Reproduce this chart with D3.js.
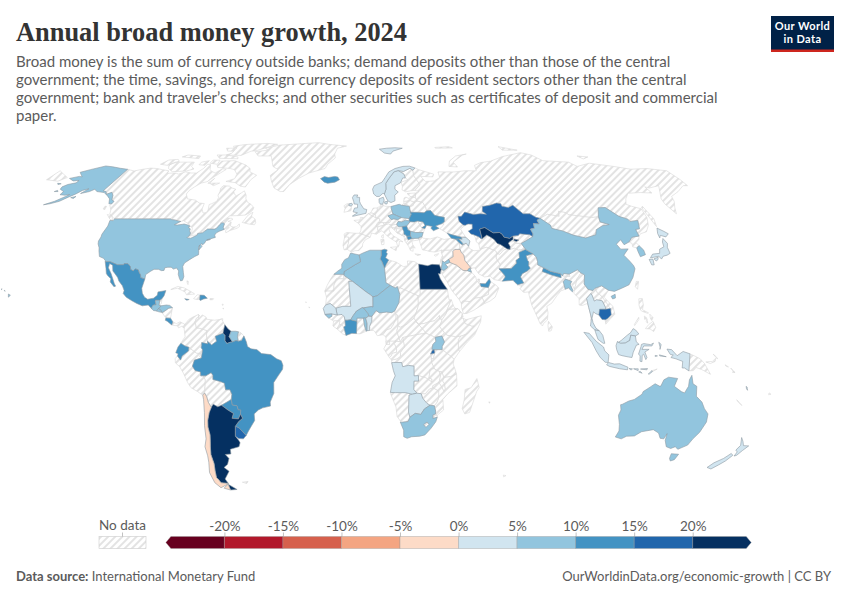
<!DOCTYPE html>
<html>
<head>
<meta charset="utf-8">
<style>
  body { margin: 0; background: #fff; }
  text { font-family: Lato, "Noto Sans", sans-serif; }
</style>
<script src="https://cdn.jsdelivr.net/npm/d3@7"></script>
</head>
<body>
<script>
const width = 850, height = 600;

// legend bins and colours
const binEdges = [-25, -20, -15, -10, -5, 0, 5, 10, 15, 20, 25];
const tickValues = [-20, -15, -10, -5, 0, 5, 10, 15, 20];
const binColors = ['#67001f', '#b2182b', '#d6604d', '#f4a582', '#fddbc7', '#d1e5f0', '#92c5de', '#4393c3', '#2166ac', '#053061'];

const dataCountries = ['United States', 'Mexico', 'Guatemala', 'Honduras', 'El Salvador', 'Costa Rica', 'Dominican Republic', 'Jamaica',
  'Guyana', 'Suriname', 'Ecuador', 'Brazil', 'Paraguay', 'Uruguay', 'Argentina', 'Chile', 'Iceland', 'United Kingdom', 'Norway', 'Sweden',
  'Denmark', 'Poland', 'Czechia', 'Hungary', 'Serbia', 'North Macedonia', 'Bulgaria', 'Ukraine', 'Georgia', 'Armenia', 'Azerbaijan',
  'Kazakhstan', 'Uzbekistan', 'Jordan', 'Iraq', 'Kuwait', 'UAE', 'Pakistan', 'Nepal', 'Bangladesh', 'China', 'South Korea', 'Japan',
  'Thailand', 'Cambodia', 'Malaysia', 'Indonesia', 'Australia', 'New Zealand', 'Vanuatu', 'Morocco', 'Algeria', 'Tunisia', 'Egypt',
  'Mali', 'Senegal', 'Guinea-Bissau', 'Ivory Coast', 'Burkina Faso', 'Togo', 'Benin', 'Niger', 'Uganda', 'Rwanda', 'Angola',
  'Botswana', 'South Africa'];
const dataGrowth = [7, 12, 9, 9, 8, 12, 11, 11,
  25, 8, 12, 13, 12, 17, 90, -3, 12, 3, 4, 3,
  3, 8, 7, 8, 13, 12, 9, 13, 14, 13, 4,
  18, 27, 7, -3, 7, 13, 12, 13, 8, 7, 6, 2,
  3, 17, 4, 4, 8, 3, 3, 7, 8, 11, 30,
  3, 4, 7, 12, 8, 8, 4, 7, 9, 17, 4,
  4, 7];

// country outlines, each ring is lon,lat,lon,lat... (rough, traced by hand)
const outlines = {
  'Canada': [
    [-123,49,-95.15,49,-94.6,48.7,-93,48.6,-91,48.2,-89.6,48,-88.4,48.3,-84.9,46.9,-84.5,46.5,-83.5,46,-82.5,45.3,-82.1,43.6,-82.5,42.6,-83.1,42.1,-81,42.6,-79.2,42.8,-78.9,42.9,-79.2,43.4,-78,43.6,-76.8,43.6,-76.3,44.2,-75,45,-71.5,45,-70.8,45.4,-70.3,46.2,-70,46.7,-69.2,47.45,-68.3,47.35,-67.8,47.1,-67.8,45.7,-67.4,45.3,-67,44.9,-66,45.2,-64.8,45.7,-66.2,44.4,-65.7,43.6,-64,44.5,-61,45.3,-60,46,-60.5,47,-61.5,45.9,-63,45.8,-64.5,46.2,-64.8,47.8,-66.5,48,-64.3,48.8,-65,49.2,-67,49.3,-70,47.2,-68,49,-66.5,50.2,-62,50.3,-59,50.5,-57,51.5,-56,52.5,-56,53.5,-58,54.8,-60,55.5,-61.8,57,-62.5,58.5,-64.5,60.3,-65.5,59.5,-67.5,58.3,-69,58.9,-70,60,-69.6,61,-72,61.5,-74,62.3,-77.5,62.5,-78.2,61.5,-77.5,60,-77.5,58.5,-76.5,57.5,-76.5,56,-78.5,55,-79.5,54.7,-78.7,52.5,-79,51.5,-80.5,51.3,-82,52.9,-82.3,55.1,-85,55.3,-88,56.5,-92.5,57,-94.8,59,-94.5,60.5,-93,62,-90.8,63.6,-88,64.2,-87,65.2,-86,66.3,-84,68,-82,69.6,-84.5,69.9,-87,68,-90,68.8,-91.5,69.5,-94,71.9,-96,72,-96,70,-98,68,-101,68,-105,68.5,-108,67.5,-110,68,-115,67.9,-115.5,69,-120,69.5,-124,70,-128,70.2,-133,69.5,-136,68.9,-141,69.65,-141,60.3,-139,60,-137.5,58.9,-135.5,59.7,-133.5,58.5,-131.8,56.6,-130,56,-130,55,-130.5,54.5,-128,52.5,-127,51,-125,50],
    [-128,50.7,-125.3,50.3,-123.5,48.5,-125,48.8],
    [-65,61.9,-68,62.3,-72,63.8,-77.5,64.3,-73.5,65.5,-73.8,67.5,-77,69.5,-80,70,-88,70.5,-89.5,71.5,-89,73.5,-81,73.7,-77,72.8,-72,71.6,-68,70,-67,68.5,-62,67,-64,65],
    [-105,68.9,-101.5,69.8,-104.5,71,-105.5,73,-110,73,-117.5,73,-119,71.5,-117,70,-113,68.6],
    [-125,72,-123,74,-117.5,74.3,-115.5,73.4,-120,71.5],
    [-90,76.5,-80,76.3,-76,78.5,-73,78.7,-65,81.5,-62,82.5,-70,83.1,-85,82.4,-92,81.3,-88,79,-87.5,77.5],
    [-80,74.6,-92,74.8,-96,76.5,-90,76.5,-81,75.5],
    [-117,75.5,-105,74.7,-106,76,-115,76.5],
    [-87,63.5,-80.5,63.6,-83,62.5,-86,63.5,-85,65.6],
    [-59.3,47.6,-56,47,-53,46.7,-52.7,47.5,-53.5,49,-55.7,50,-55.6,51.6,-57.5,50.5],
    [-90.5,73.9,-95,74,-95,72.5,-90,72],
    [-95,80,-88,80,-88,78.5,-92,78.5],
    [-101,73,-97,73.7,-97,71.5,-101,71.8],
    [-132.5,54,-131.7,54,-131.2,52.5,-132.3,53]
  ],
  'United States': [
    [-124.7,48.4,-123,48.3,-123,49,-95.15,49,-94.6,48.7,-93,48.6,-91,48.2,-89.6,48,-92,46.7,-90.5,46.6,-88,46.9,-87.4,47,-84.9,46.5,-84.5,46.4,-84,46,-84.8,45.8,-83.4,45.1,-83.3,44.3,-82.5,43.5,-82.5,42.6,-83.1,42.1,-83.4,41.7,-81.5,41.5,-79,42.7,-79,43.3,-76.8,43.6,-76.2,44.1,-75,45,-71.5,45,-70.8,45.4,-70.3,46.2,-70,46.7,-69.2,47.45,-68.3,47.35,-67.8,47.1,-67.8,45.7,-67.4,45.3,-67,44.9,-69,44.2,-70.2,43.6,-70.7,42.7,-70,41.8,-71.2,41.5,-73.7,40.9,-72,41,-74,40.5,-74.1,39.7,-75,38.9,-75.5,39.5,-75.8,39,-75,38.3,-76,37,-76.3,38.9,-76.4,37.9,-75.9,36.6,-75.5,35.2,-77,34.5,-78,33.9,-79.2,33.2,-81,32,-81.4,30.7,-80.6,28.5,-80,26.8,-80.3,25.4,-81.1,25.2,-81.8,26.1,-82.7,27.7,-82.8,29,-84,30.1,-85.3,29.7,-86.5,30.4,-88,30.4,-89.3,30.2,-89.4,29.2,-90.5,29.1,-92,29.6,-94,29.6,-95.3,28.9,-97.2,27.6,-97.15,25.95,-99.1,26.4,-99.5,27.5,-100.3,28.3,-101,29.4,-102.5,29.8,-103.2,29,-104.5,29.6,-105,30.7,-106.5,31.75,-108.2,31.78,-108.2,31.33,-111.05,31.33,-114.8,32.5,-117.1,32.5,-117.3,33,-118.4,33.8,-120.6,34.5,-121.9,36.6,-122.5,37.8,-123.8,39.3,-124.3,40.4,-124.2,42,-124.5,43,-124,46.2],
    [-141,69.65,-141,60.3,-139,60,-137.5,58.9,-135.5,59.7,-133.5,58.5,-131.8,56.6,-130,56,-130,55,-131.5,55,-133.5,57,-136,58.2,-139.5,59.6,-144,60,-146.5,61,-148,60,-151.7,59.2,-150,61.2,-152.5,60.5,-154,59,-156,57.8,-158.5,56,-162,55,-164.8,54.6,-161,56,-158,58,-157,58.8,-159,58.5,-162,58.7,-162,60,-165.4,61,-166,62,-164.5,63,-161,63.7,-161,64.7,-164,64.5,-168,65.6,-164,66.5,-162,66.3,-163.7,67,-166.8,68.3,-163,69.5,-157,71.2,-152,70.8,-146,70.1],
    [-154.6,57.5,-152.5,58,-152.8,57.2],
    [-171,63.5,-168.7,63.3,-170,63],
    [-167,60,-165,60,-166,60.5],
    [-156,20.2,-155,19.7,-155.7,19],
    [-158.2,21.6,-157.7,21.3,-158,21.3],
    [-159.8,22.1,-159.3,22.1,-159.5,21.9]
  ],
  'Greenland': [[-73,78.2,-68.5,76,-60,76,-55,71,-51,69.5,-54,67,-52,64.5,-49,61.5,-45,60,-43,60,-41,63,-37,65.6,-32,68,-23,70,-22,72,-18,75,-19,77,-18,80,-12,81.4,-25,82.5,-33,83.6,-45,82.9,-60,82,-64,81,-68,80,-65,79]],
  'Iceland': [[-24.5,65.5,-22,64,-20,63.5,-16,64,-13.6,65,-14.7,66.2,-16.5,66.5,-20,66,-22.5,66.4]],
  'Mexico': [[-117.1,32.5,-114.8,32.5,-111.05,31.33,-108.2,31.33,-108.2,31.78,-106.5,31.75,-105,30.7,-104.5,29.6,-103.2,29,-102.5,29.8,-101,29.4,-100.3,28.3,-99.5,27.5,-99.1,26.4,-97.15,25.95,-97.8,22.4,-97.2,20.5,-96,19,-94.5,18.2,-92,18.6,-90.5,19.7,-90.4,21,-87,21.5,-87.5,19.5,-88.2,18.5,-89.15,17.8,-90.98,17.8,-91,17.25,-90.5,16.1,-91.7,16,-92.2,15.2,-92.2,14.55,-93.9,16,-96.5,15.7,-99,16.6,-101.5,17.7,-104,19,-105.6,20.4,-105.4,21.5,-106.5,23.3,-108.5,25.2,-109.4,26.5,-111,27.9,-112.3,29,-113.2,31.2,-114.8,31.8,-114.7,30.2,-112.8,28,-111.3,25.8,-110.3,24.2,-109.5,23.2,-110.2,23,-112.2,24.8,-112.3,26,-114.2,27.3,-114.9,28,-115.7,30]],
  'Guatemala': [[-92.2,14.55,-92.2,15.2,-91.7,16,-90.5,16.1,-91,17.25,-90.98,17.8,-89.15,17.8,-89.2,15.9,-88.2,15.7,-89.2,14.6,-90.1,13.75,-91.4,13.9]],
  'Belize': [[-89.15,17.8,-88.2,18.5,-88.3,16.5,-89.2,15.9]],
  'Honduras': [[-88.2,15.7,-89.2,14.6,-88,13.9,-87.6,13.1,-86,14,-84.8,14.8,-83.2,15,-84.5,15.85,-86,16]],
  'El Salvador': [[-90.1,13.75,-89.2,14.6,-88,13.9,-87.8,13.2,-89,13.4]],
  'Nicaragua': [[-87.6,13.1,-86,14,-84.8,14.8,-83.2,15,-83.7,11,-85.7,11.1]],
  'Costa Rica': [[-85.7,11.1,-83.7,11,-82.6,9.6,-83,8.4,-85,9.8,-85.9,10.2]],
  'Panama': [[-83,8.4,-82.6,9.6,-81,8.9,-79.5,9.6,-77.4,8.7,-77.9,7.2,-78.4,8,-80,7.3,-80.5,8.1,-82,8.2]],
  'Cuba': [[-84.9,21.9,-82,23.1,-79,22.5,-75,20.7,-74.2,20.2,-77.7,19.9,-78.5,21,-82,22.4]],
  'Jamaica': [[-78.3,18.4,-76.3,18.1,-77.3,17.8]],
  'Haiti': [[-74.4,18.4,-73,19.9,-71.7,19.8,-71.7,18.1,-73,18.1]],
  'Dominican Republic': [[-71.7,19.8,-69.9,19.7,-68.4,18.6,-70,18.3,-71.4,17.7,-71.7,18.1]],
  'Puerto Rico': [[-67.2,18.5,-65.6,18.4,-66,18,-67.2,18]],
  'Bahamas': [[-78.3,25.2,-77.6,25,-77.6,23.8,-78,24.3]],
  'Lesser Antilles': [[-61.7,16.3,-61.2,16.3,-61.4,15.8],[-61.1,14.9,-60.9,14.5,-61.2,14.6]],
  'Trinidad': [[-61.9,10.7,-61,10.8,-61,10.1,-61.9,10.1]],
  'Colombia': [[-77.3,8.7,-75.6,10.6,-74.2,11.3,-71.7,12.4,-71.2,11.8,-72.4,11,-73,9.5,-72.4,8,-72.4,7.4,-70.1,7,-67.5,6.2,-67.8,4.5,-67.3,2.2,-67.2,1.2,-69.8,1.7,-69.8,0.6,-70,-0.2,-69.4,-1.1,-70,-4.2,-70.7,-3.8,-70.3,-2.5,-72,-2.4,-74,-1.1,-75.3,-0.1,-77,0.4,-78.8,1.4,-78,2.6,-77,3.9,-77.5,6.7]],
  'Venezuela': [[-71.7,12.4,-71.2,11.8,-72.4,11,-73,9.5,-72.4,8,-72.4,7.4,-70.1,7,-67.5,6.2,-67.8,4.5,-67.3,2.2,-65.5,0.8,-63.4,2.2,-64,4.1,-60.7,5.2,-60,8.5,-61.5,10.6,-64.5,10.2,-68,10.6,-68.3,11.4,-70,12.2,-71.5,10.8]],
  'Guyana': [[-60,8.5,-60.7,5.2,-59.8,4.4,-59.8,2.4,-58.9,1.3,-57.5,1.8,-56.5,1.9,-58,4,-57.2,6,-58.5,6.9]],
  'Suriname': [[-57.2,6,-58,4,-56.5,1.9,-55,2.5,-54,2.2,-54.4,4,-54,5.8,-55.2,6]],
  'French Guiana': [[-54,5.8,-54.4,4,-54,2.2,-52.6,2.5,-51.6,4.2,-52.9,5.4]],
  'Brazil': [[-51.6,4.2,-52.6,2.5,-54,2.2,-55,2.5,-56.5,1.9,-57.5,1.8,-58.9,1.3,-59.8,2.4,-59.8,4.4,-60.7,5.2,-64,4.1,-63.4,2.2,-65.5,0.8,-67.3,2.2,-67.2,1.2,-69.8,1.7,-69.8,0.6,-70,-0.2,-69.4,-1.1,-70,-4.2,-73,-5,-74,-7.3,-72.9,-9,-70.6,-9.5,-70.6,-11,-69.5,-11,-68.4,-11,-66,-9.8,-65.3,-10.8,-65.4,-12.4,-62,-13.2,-60.5,-13.8,-60.2,-16.3,-58.3,-16.3,-57.6,-18,-58,-20,-57.9,-22.1,-55.8,-22.4,-55.4,-24,-54.3,-24,-54.6,-25.6,-53.9,-27.2,-55.8,-28.4,-57.6,-30.2,-56,-30.9,-53.4,-33.7,-52,-32,-50.7,-30.5,-48.6,-28,-48.5,-25.5,-46.5,-24,-44.5,-23.2,-41,-22.5,-41,-21,-39.2,-17.7,-39,-13.5,-37,-11,-35,-8.5,-34.8,-7,-35.5,-5.2,-37.5,-4.5,-40,-2.9,-44,-2.5,-46,-1,-48.5,-0.7,-50,0.2,-50.5,1.9]],
  'Ecuador': [[-78.8,1.4,-77,0.4,-75.3,-0.1,-75.5,-1.5,-78.3,-3.4,-79,-5,-80.3,-3.4,-80,-2.6,-81,-2.2,-80,0]],
  'Peru': [[-80.3,-3.4,-79,-5,-78.3,-3.4,-75.5,-1.5,-75.3,-0.1,-74,-1.1,-72,-2.4,-70.3,-2.5,-70.7,-3.8,-70,-4.2,-73,-5,-74,-7.3,-72.9,-9,-70.6,-9.5,-70.6,-11,-69.5,-11,-68.7,-12.5,-69,-15,-69.5,-17.5,-70.4,-18.35,-72.5,-17,-75.2,-15.5,-76.5,-13.5,-78,-10,-79.5,-7.5,-81.3,-6,-81.3,-4.4]],
  'Bolivia': [[-69.5,-11,-68.4,-11,-66,-9.8,-65.3,-10.8,-65.4,-12.4,-62,-13.2,-60.5,-13.8,-60.2,-16.3,-58.3,-16.3,-57.6,-18,-58.2,-20.1,-62.6,-22.2,-64.3,-22.8,-66.2,-21.8,-67.2,-23,-68.3,-21,-68.7,-19,-69.5,-17.5,-69,-15,-68.7,-12.5]],
  'Paraguay': [[-57.9,-22.1,-58,-20,-58.2,-20.1,-62.6,-22.2,-60,-24,-57.7,-25.3,-58.6,-27.2,-55.8,-27.4,-54.6,-25.6,-54.3,-24,-55.4,-24,-55.8,-22.4]],
  'Uruguay': [[-57.6,-30.2,-56,-30.9,-53.4,-33.7,-54.9,-35,-57,-34.9,-58.4,-34,-58,-32]],
  'Argentina': [
    [-66.2,-21.8,-64.3,-22.8,-62.6,-22.2,-60,-24,-57.7,-25.3,-58.6,-27.2,-55.8,-27.4,-54.6,-25.6,-53.9,-27.2,-55.8,-28.4,-57.6,-30.2,-58,-32,-58.4,-34,-57.2,-35.5,-56.8,-36.5,-57.7,-38,-62,-39,-62.3,-40.8,-65,-41,-63.8,-42.5,-65.3,-44.8,-67.5,-46,-65.7,-47.5,-69,-50.5,-68.3,-52.3,-71.9,-52,-72.4,-50.7,-73,-50,-72.5,-47.5,-71.7,-44.5,-71.8,-41,-71,-38,-70.4,-36,-69.8,-33.5,-70,-30.5,-69.6,-28,-68.4,-25,-67.2,-23],
    [-68.6,-52.6,-65.1,-54.7,-68.6,-54.9]
  ],
  'Chile': [
    [-70.4,-18.35,-69.5,-17.5,-68.7,-19,-68.3,-21,-67.2,-23,-68.4,-25,-69.6,-28,-70,-30.5,-69.8,-33.5,-70.4,-36,-71,-38,-71.8,-41,-71.7,-44.5,-72.5,-47.5,-73,-50,-72.4,-50.7,-71.9,-52,-68.3,-52.3,-70,-53,-73,-54,-75,-52,-75.5,-48,-74,-44,-73.5,-41.5,-73.5,-38,-72,-35,-71.4,-30,-70.5,-25,-70.2,-20],
    [-68.6,-52.6,-68.6,-54.9,-71.5,-54.2,-70,-53.3]
  ],
  'Falkland Islands': [[-61,-51.8,-58,-51.5,-59,-52.3]],
  'Portugal': [[-9.5,38.8,-8.9,37,-7.4,37.2,-7.4,38.5,-7,39.5,-6.9,41.9,-8.2,42.1,-8.9,41.8]],
  'Spain': [[-8.9,41.8,-8.2,42.1,-6.9,41.9,-7,39.5,-7.4,38.5,-7.4,37.2,-6.3,36.6,-5.4,36.1,-4,36.7,-2,36.8,-0.5,38.2,-0.3,39.4,0.8,40.8,3.2,41.9,1.7,42.4,-1.8,43.4,-4,43.4,-8,43.7,-9.2,43.1]],
  'France': [
    [-1.8,43.4,1.7,42.4,3.2,41.9,3.9,43.5,6.2,43,7.5,43.8,6.8,45,7,45.9,6.1,46.2,7,47.5,7.6,47.6,8.2,49,6.2,49.5,4.8,50,2.5,51.1,1.6,50.5,0.2,49.5,-1.5,49.6,-1.6,48.6,-4.7,48.4,-2.5,47.3,-1.1,46,-1.2,44.5],
    [8.6,42.4,9.5,42.9,9.4,41.5,8.8,41.6]
  ],
  'Belgium': [[2.5,51.1,4.8,50,6.2,49.5,6,50.8,4.3,51.4]],
  'Netherlands': [[3.6,51.4,4.3,51.4,6,50.8,7.1,52.3,7.1,53.3,5,53.3,4.1,52]],
  'Germany': [[7.1,53.5,7.1,52.3,6,50.8,6.2,49.5,8.2,49,7.6,47.6,9.6,47.5,13,47.6,13.8,48.7,12.2,50.2,14.8,50.9,14.2,53,14.1,53.9,11,54,9.9,54.8,8.7,54.9,8.7,53.9]],
  'Denmark': [
    [8.2,55.5,8.7,54.9,9.9,54.8,10.9,56.5,10.5,57.7,8.2,57],
    [11,55.8,12.6,56,12.2,54.9,11.1,55]
  ],
  'Switzerland': [[6.1,46.2,7,45.9,10.4,46.6,9.6,47.5,7.6,47.6,7,47.5]],
  'Austria': [[9.6,47.5,10.4,46.6,12.2,47,13.7,46.5,16.2,46.9,17.1,48,16.9,48.7,15,49,13.8,48.7,13,47.6]],
  'Italy': [
    [7,45.9,6.8,45,7.5,43.8,8.9,44.4,10.5,43,12.3,41.7,15.5,40,16,38,16.6,38.8,16.9,40.4,18.5,40.1,16,41.5,14,42.5,12.5,44.2,12.3,45.3,13.7,45.7,13.7,46.5,12.2,47,10.4,46.6],
    [12.5,38,15.6,38.2,15.1,36.7],
    [8.2,41,9.7,41,9.6,39.1,8.5,39]
  ],
  'Poland': [[14.2,53,14.8,50.9,16.5,50.3,18.8,49.5,22.6,49.1,24,50.8,23.6,52.6,23.5,54,19.7,54.4,18.5,54.8,16,54.3,14.1,53.9]],
  'Czechia': [[12.2,50.2,13.8,48.7,15,49,16.9,48.7,18.8,49.5,16.5,50.3,14.8,50.9]],
  'Slovakia': [[16.9,48.7,17.1,48,18.8,47.8,20.7,48.5,22.5,48.2,22.6,49.1,18.8,49.5]],
  'Hungary': [[16.2,46.9,17.1,48,18.8,47.8,20.7,48.5,22.5,48.2,22.9,47.9,21,46.2,20.3,46.1,18.8,45.9,17,45.9]],
  'Slovenia': [[13.7,45.5,13.7,46.5,16.2,46.9,16.2,46.4,15.5,45.5]],
  'Croatia': [[13.7,45.5,15.5,45.5,16.2,46.4,17,45.9,18.8,45.9,19,44.9,16,45.2,15.8,44.2,18.4,42.6,16,43.5,15,44.5,14.2,45.2]],
  'Bosnia': [[16,45.2,19,44.9,19.4,44,18.5,42.6,18.4,42.6,15.8,44.2]],
  'Serbia': [[18.8,45.9,20.3,46.1,21,46.2,21.4,44.8,22.6,44.2,22.4,43,22.4,42.3,20.6,42.2,20,42.8,19.3,43,19.4,44,19,44.9]],
  'Montenegro': [[18.5,42.5,19.3,43,20,42.8,19.3,41.9]],
  'Albania': [[19.3,41.9,20,42.8,20.6,42.2,21,40.9,21,40.6,20,39.7,19.4,40.5]],
  'North Macedonia': [[20.6,42.2,22.4,42.3,23,41.4,21,40.9]],
  'Bulgaria': [[22.6,44.2,25,43.7,28.6,43.7,27.7,42,26.3,41.8,26.3,41.5,23,41.4,22.4,42.3,22.4,43]],
  'Romania': [[22.9,47.9,24.9,47.8,26.6,48.2,28.2,45.5,29.7,45.2,28.6,43.7,25,43.7,22.6,44.2,21.4,44.8,21,46.2]],
  'Moldova': [[26.6,48.2,29.2,47.8,30,46.4,28.2,45.5]],
  'Ukraine': [[22.5,48.2,22.6,49.1,24,50.8,23.6,51.6,27,51.6,30.5,51.4,32,52.2,34,52.3,35.5,50.4,38,49.9,40.1,49.6,39.7,47.9,38.2,47.1,35,46.2,36.5,45.3,33.6,44.4,32.5,45.4,33.4,46,30.7,46.5,29.7,45.2,28.2,45.5,30,46.4,29.2,47.8,26.6,48.2,24.9,47.8,22.9,47.9]],
  'Belarus': [[23.6,51.6,27,51.6,30.5,51.4,32,52.2,31.8,53.8,30.8,55.6,28.2,56.1,26.6,55.7,25.5,54.3,23.5,54,23.6,52.6]],
  'Lithuania': [[21,56,21,55.3,22.8,54.4,23.5,54,25.5,54.3,26.6,55.7,24.5,56.3]],
  'Latvia': [[21,56,24.5,56.3,26.6,55.7,28.2,56.1,27.5,57.5,25,58,24.1,57.1,22.5,57.7,21.5,57.4]],
  'Estonia': [[23.4,59.2,28,59.4,27.5,57.5,25,58,24.3,58.4]],
  'Finland': [[21,60.7,22.8,59.9,25.5,60.3,28,60.5,31.5,62.9,29.1,66.9,29.5,69.2,28,70.1,23.7,68.7,20.6,69.1,23.7,67.5,24,65.8,25.3,65,21.3,64,21.5,62]],
  'Sweden': [[11.2,59,12.7,56.2,14.3,55.5,16.5,56.2,16.7,58.5,18.8,59.8,17.2,61,17.5,62.5,20.8,63.7,22.5,65.8,24,65.8,23.7,67.5,20.6,69.1,18,68.5,14.5,65.5,12.5,63.5,12.3,61]],
  'Norway': [
    [11.2,59,12.3,61,12.5,63.5,14.5,65.5,18,68.5,20.6,69.1,23.7,68.7,28,70.1,29.5,69.2,31,70.3,28,71.1,24,71,19,70,15,68.5,12.5,66,10.5,64,6,62.5,5,61,5.5,59,7,58,8.5,58,10.5,59.3],
    [11,79.5,16,80,22,80.3,27,80,20,78.5,18,77,14,77.5]
  ],
  'United Kingdom': [
    [-5.2,50,1.3,51.2,1.7,52.7,0.2,53,-1.5,55,-2,56,-2,57.6,-3.5,57.7,-3,58.6,-5,58.6,-5.8,57.5,-5,55.8,-4.8,54.9,-3,54.8,-3,53.4,-4.5,53.3,-5.2,51.8,-3,51.4,-5.5,50.1],
    [-7.3,55,-6,55.2,-5.6,54.5,-6.3,54.1,-7.5,54.3]
  ],
  'Ireland': [[-7.3,55,-7.5,54.3,-6.3,54.1,-6.1,53,-6.4,52.2,-9.8,51.6,-9.3,53.2,-10,54.2,-8.3,55.1]],
  'Greece': [
    [20,39.7,21,40.6,21,40.9,23,41.4,26.3,41.5,26,40.8,22.7,40.4,23,39,24,37.7,23,38,22.9,36.5,21.7,36.8,21.1,38.3],
    [23.6,35.5,26.2,35.2,24.8,34.9]
  ],
  'Cyprus': [[32.4,35,34.5,35.6,33.8,34.9,32.9,34.6]],
  'Turkey': [[26.3,41.8,27.7,42,28.2,41.5,31.5,41.2,35,42,38,41,41.5,41.5,43.5,41.1,44.8,39.7,44.7,37.2,42.3,37.2,40,36.9,36.7,36.8,36,36.9,36.1,36,36,36.9,33,36.2,30.5,36.4,29,36.8,27.3,37,26.5,39.5,26.3,40.6]],
  'Russia': [
    [28,59.4,27.5,57.5,28.2,56.1,30.8,55.6,31.8,53.8,32,52.2,34,52.3,35.5,50.4,38,49.9,40.1,49.6,39.7,47.9,38.2,47.1,39.3,47,37.5,45.5,36.7,45.2,39,44,40,43.4,43,42.6,46.4,41.9,48.5,41.8,47.5,43.5,46.8,45,48.5,46,49.5,46.5,48.6,46.6,47,48,47,50,48.7,50,51,51.7,55,50.7,58.5,51,61.5,50.8,60,52,61,53.9,65,54.4,69,55.3,71,55,71,54,74,53.5,76.8,54.4,80,51,83.4,51,85.5,49.6,87.4,49.2,92,50.8,97.3,50,98.5,52,102,51.4,102.3,50.6,106,50.3,113,49.5,116.7,49.8,119.8,53.4,123.5,53.5,127,50,130.5,48.9,130.8,48,135,48.4,133,45.1,131,44.9,130.7,42.3,132,43.2,135.5,44,138.5,46.5,140.5,49.5,141.3,53,137.5,54,135.5,54.8,138,57,142,59.3,149,59.6,155,59.4,155,62,156.7,61.5,163.5,62.5,156.6,57,155.7,55,156.8,51,159,53.5,162,56,163.5,58,170,60,177,62.5,179.5,62.5,180,65,180,69,170,70,160,69.7,152,71,140,72.5,130,71,128,73,113,73.7,110,76.5,105,77.7,90,75.7,80,73.5,73,72.8,68,71.5,67,69,60,69,54,68.5,44,68.5,43.8,66,40,64.5,35,64.3,33,66.5,40,66.3,41,67.5,33,69.5,31,70.3,29.5,69.2,29.1,66.9,31.5,62.9,28,60.5,30,60],
    [19.7,54.4,22.8,54.4,21,55.3],
    [-180,65,-172.5,64.4,-170,66,-175,67.5,-180,69],
    [52,71,57,70.7,56,73,65,76.5,68,77,60,76,54,73.5],
    [95,79,100,79,105,79,95,81],
    [142,46,143.5,49,143,54,142,53.5],
    [139,76,145,75.5,140,74.5],
    [50,80.5,60,81,62,80.2,50,80]
  ],
  'Kazakhstan': [[49.5,46.5,51,47,53,46.9,52.5,45.2,51,44.5,50.3,44.3,51.2,43.1,52.5,42.8,54.7,42,55.5,41.3,56,41.3,56,45,58.6,45.6,62,43.5,65,43.7,66,43,66.5,41.9,69,41.4,70.9,42.3,73.5,42.5,74.5,43.2,79.2,42.8,80.2,42.1,80.8,43.2,80.4,45,82.5,45.3,83,47.2,85.7,47,85.5,48.5,87.4,49.2,85.5,49.6,83.4,51,80,51,76.8,54.4,74,53.5,71,54,71,55,69,55.3,65,54.4,61,53.9,60,52,61.5,50.8,58.5,51,55,50.7,51,51.7,48.7,50,47,50,47,48,48.6,46.6]],
  'Uzbekistan': [
    [56,41.3,56,45,58.6,45.6,62,43.5,65,43.7,66,43,66.5,41.9,69,41.4,70.9,42.3,70.5,41,68.5,40.1,67.7,39.6,68.2,38.3,67.8,37.2,66.5,37.4,64,39,62.5,39.5,61.5,41,60,42,58.6,42.7],
    [71,41.2,73.1,40.8,71.7,40.2,70.6,40.6]
  ],
  'Turkmenistan': [[52.5,42.8,54.7,42,55.5,41.3,56,41.3,58.6,42.7,60,42,61.5,41,62.5,39.5,64,39,66.5,37.4,64.8,37,62.5,35.3,61.2,35.6,61,36.6,57,38,53.9,37.2,53.8,39.5,52.9,40,52.9,41.7]],
  'Kyrgyzstan': [[70.9,42.3,73.5,42.5,74.5,43.2,79.2,42.8,80.2,42.1,76,40.4,73.7,39.5,71,39.5,70.6,40.6,73.1,40.8,71,41.2]],
  'Tajikistan': [[68.2,38.3,67.8,37.2,70,37.6,71.5,36.9,75,37.2,73.7,39.5,71,39.5,70.6,40.2,68.5,40.1,67.7,39.6]],
  'Afghanistan': [[61.2,35.6,62.5,35.3,64.8,37,66.5,37.4,67.8,37.2,70,37.6,71.5,36.9,74.9,37.3,71.5,36,71.2,34,69.3,33,69.3,31.9,66.4,29.9,60.9,29.8,61.8,31.4,60.6,33.5,60.5,34.3]],
  'Pakistan': [[74.9,37.2,77.8,35.5,74.4,34.8,74.6,33,75,32.5,74.5,31,75,30,73.5,29,71,27.9,70,26.7,71,24.4,68.2,23.7,67,24.8,66.4,25.4,61.6,25.1,63.2,26.7,63,27.3,60.9,29.8,66.4,29.9,69.3,31.9,69.3,33,71.2,34,71.5,36]],
  'India': [[74.6,33,74.4,34.8,77.8,35.5,78.9,34.3,79,32.5,78.7,31.3,81,30.2,80.1,28.8,84,27.4,88,26.4,88.2,27.9,88.8,27.1,92,26.9,92,27.8,96,29.4,97.3,28.2,95,26,94,23.9,93.3,22.5,93,22,92.3,24,91.5,24,92.4,25,89.8,25.9,88.5,24.8,88.7,24.2,89,22,87,21.4,85,19.6,82.3,16.7,80,15.5,80.3,13,79.8,10.3,78,8.9,77.5,8,76.5,9,74.8,13,73.5,15.9,72.8,19.5,72.7,21,70.5,20.8,69,22.3,70,23,68.2,23.7,71,24.4,70,26.7,71,27.9,73.5,29,75,30,74.5,31,75,32.5]],
  'Sri Lanka': [[79.9,8.2,80.2,9.8,81.8,7.6,81.2,6.2,80.1,6]],
  'Nepal': [[80.1,28.8,81,30.2,84,28.8,88.2,27.9,88,26.4,84,27.4]],
  'Bhutan': [[88.8,27.1,89.5,28,91.6,27.8,92,26.9]],
  'Bangladesh': [[88.5,24.8,89.8,25.9,92.4,25,91.5,24,92.3,21.5,92,21,90.5,22.5,89,22,88.7,24.2]],
  'Myanmar': [[97.3,28.2,98.7,27.5,97.7,24,99,22,101.1,21.5,100,20.4,97.8,18.5,98.2,15,99,11,98.7,10,98.7,16,97.5,16.5,95.5,15.8,94.2,16,94.5,18.5,92.5,20.5,93,22,93.3,22.5,94,23.9,95,26]],
  'Thailand': [[97.8,18.5,100,20.4,100.5,19.5,101,17.5,102.1,18,104.5,17.6,105.5,15.2,105.5,14.3,103,14.3,102.5,12.2,101,12.7,100.1,13.4,99.2,11,99.5,9.2,100.6,7.2,102,6.2,100.1,6.5,98.3,8,98.7,10,99,11,98.2,15]],
  'Laos': [[100,20.4,101.1,21.5,102.2,22.4,103,20.5,104.5,19.5,106.5,16.5,107.5,14.6,105.5,14.3,105.5,15.2,104.5,17.6,102.1,18,101,17.5,100.5,19.5]],
  'Cambodia': [[102.3,12.2,102.9,14.4,105.5,14.4,107.7,14.7,107.7,12.3,106,10.9,105,10.4,103.5,10.5]],
  'Vietnam': [[102.2,22.4,105.3,23.3,108,21.6,106,19.5,105.6,18.9,108.8,15.5,109.3,12.5,106.8,10.4,105,8.7,104.8,10.4,105,10.5,106,11,107.5,12.3,107.5,14.6,106.5,16.5,104.5,19.5,103,20.5]],
  'Malaysia': [
    [100.1,6.5,102,6.2,103.4,4.5,104.2,1.4,103.5,1.4,101.3,2.9,100.4,5.4],
    [109.6,2,111,1.4,113,1.5,115,2.5,115.5,4.5,117.5,4.2,119,5,117.7,6.5,116.7,7,115.4,5.4,114,4.5,111.3,2.5,110,1.7]
  ],
  'Indonesia': [
    [95.3,5.6,97.6,5.2,100.5,2.2,103.6,0,104.2,-1.5,106,-3,105.8,-5.9,104.5,-5.8,102.3,-4,100.5,-1.5,98.7,1.7],
    [105.2,-6.8,106,-5.9,108.5,-6.5,110.8,-6.4,114.5,-7.7,114.4,-8.7,111,-8.3,106.5,-7.4],
    [109.6,2,109,0.5,109.3,-1,110.2,-2.9,111.7,-3.3,114.5,-3.8,116,-4,116.5,-2,117.8,0.7,119,1,117.8,2,117.5,4.2,115.5,4.5,115,2.5,113,1.5,111,1.4],
    [119.8,0.2,120,1,121,1.3,124,0.9,125.2,1.5,124.5,0.4,121,0.4,120.2,-0.9,121.5,-0.9,123.3,-0.9,121.5,-1.9,122.5,-4,122,-4.8,121,-2.7,120.4,-3.2,120.4,-5.6,119.5,-5.4,119.5,-3.4,118.8,-2.7],
    [141,-2.6,138,-1.7,135.5,-3.3,133,-1,131,-0.8,132.5,-2.8,133.8,-3.1,132.8,-4,135,-4.5,138,-5.5,138,-8,139,-8,141,-9.1],
    [115,-8.2,116.5,-8.3,116,-8.8],
    [117,-8.3,119,-8.3,119,-9],
    [120,-8.4,123,-8.2,122.8,-8.7],
    [119.3,-9.5,120.8,-10,120,-9.3],
    [123.5,-10.3,125,-9,125.2,-9.4,124,-10.3],
    [127.5,1.8,128,0,128,-0.9,128.5,1],
    [127.8,-3,130.8,-3.7,128,-3.4],
    [126,-3.2,127,-3.4,126,-3.6]
  ],
  'Timor-Leste': [[125,-9,127.2,-8.4,125.2,-9.4]],
  'Papua New Guinea': [
    [141,-2.6,141,-9.1,143,-9,144,-7.8,146.5,-8.6,150.5,-10.4,147.5,-6.3,145.5,-4.5,143,-3.4],
    [148,-5.7,150.8,-5.5,152.2,-4.3,152,-5.5,150,-6.3],
    [151,-2.7,152.5,-3.8,153,-4.6]
  ],
  'Philippines': [
    [120.3,16,120.7,18.4,122.2,18.5,122.2,16,121.5,14.2,124,13,123.7,12.8,121,13.7,120.5,14.5],
    [122,7,123.5,8.5,125.5,9.8,126.5,7.5,125.5,5.9,124,6.9],
    [124.5,12.5,125.7,11.2,125,10.1,124.5,11],
    [122,11.8,123,11,122,10.5],
    [123,10.8,123.2,9.1,122.5,9.6],
    [117.2,8.4,119.5,11.3,119.5,10.5,117.5,8.2]
  ],
  'Taiwan': [[121,25,122,25,120.9,22,120.1,23]],
  'China': [
    [73.7,39.5,76,40.4,80.2,42.1,80.8,43.2,80.4,45,82.5,45.3,83,47.2,85.7,47,85.5,48.5,87.4,49.2,91,46.5,90.8,45.3,95.5,44.3,100,42.6,105,41.6,110.5,42.8,112,44.8,116,46.3,119.7,46.8,116,47.8,116.7,49.8,119.8,53.4,123.5,53.5,127,50,130.5,48.9,130.8,48,135,48.4,133,45.1,131,44.9,130.7,42.3,128,42,126.9,41.8,124.3,40,121.5,39,121,40.9,118,39.2,119,37.3,122.5,37.4,119.2,35,120.9,32.7,121.9,31,122,29.8,120,26.5,117.5,23.7,114,22.4,110.5,21.2,108,21.6,105.3,23.3,102.2,22.4,101.1,21.5,99,22,97.7,24,98.7,27.5,97.3,28.2,96,29.4,92,27.8,91.6,27.8,89.5,28,88.8,27.1,88.2,27.9,84,28.8,81,30.2,78.7,31.3,79,32.5,78.9,34.3,77.8,35.5,74.9,37.2,75,37.2],
    [108.7,19.3,110.6,20.1,110.5,18.7,109.2,18.3]
  ],
  'Mongolia': [[87.4,49.2,92,50.8,97.3,50,98.5,52,102,51.4,102.3,50.6,106,50.3,113,49.5,116.7,49.8,116,47.8,119.7,46.8,116,46.3,112,44.8,110.5,42.8,105,41.6,100,42.6,95.5,44.3,90.8,45.3,91,46.5]],
  'North Korea': [[124.3,40,126.9,41.8,128,42,130.7,42.3,129.7,41,127.5,39.8,128.3,38.6,126.7,37.8,125,38.2,125.5,39.5]],
  'South Korea': [[126.7,37.8,128.3,38.6,129.4,37,129.2,35.2,126.5,34.4,126.5,36.7]],
  'Japan': [
    [130.9,34,132.6,35.4,136,35.7,137,37.3,139.5,38.2,140,40,141.3,41.4,142,39.5,141,38,140.8,35.7,139,35,137,34.6,135.7,33.5,135,34.6,132.5,34.2],
    [130,33.4,131.8,33.5,131.3,31.3,130.2,31.3],
    [132.3,33.6,134.5,34.2,134,33.3,132.9,32.8],
    [140,41.6,140.3,43.3,141.7,45.4,144,44.1,145.3,43.2,143.2,42,141,42.6]
  ],
  'Georgia': [[40,43.4,43,42.6,46.4,41.9,46.5,41.1,45,41.2,43.5,41.1,41.5,41.5]],
  'Armenia': [[43.5,41.1,45,41.2,46.5,39.5,46.2,38.9,44.8,39.7]],
  'Azerbaijan': [[46.5,41.1,46.4,41.9,48.5,41.8,50,40.4,48.9,38.4,48,39.6,46.2,38.9,46.5,39.5,45,41.2]],
  'Iran': [[44.8,39.7,46.2,38.9,48,39.6,48.9,38.4,49.2,37.5,51,36.7,53.9,36.9,53.9,37.2,57,38,61,36.6,61.2,35.6,60.5,34.3,60.6,33.5,61.8,31.4,60.9,29.8,63,27.3,63.2,26.7,61.6,25.1,58,25.7,56.5,27,54,26.7,51.5,27.9,50,30.2,48.5,30,47.7,31,46.1,33,46,35,45,36,44.7,37.2]],
  'Iraq': [[42.3,37.2,44.7,37.2,45,36,46,35,46.1,33,47.7,31,48.5,30,48,29.9,47.7,30.1,46.6,29.1,44.7,29.2,42,31.2,39.2,32.2,38.8,33.4,41,34.4,41.2,36.4]],
  'Syria': [[36,36.9,36.7,36.8,40,36.9,42.3,37.2,41.2,36.4,41,34.4,38.8,33.4,36.8,32.3,35.8,32.8,36.3,34.5,35.8,36]],
  'Lebanon': [[35.1,33.1,35.8,32.8,36.3,34.5,35.9,34.6]],
  'Israel': [[34.3,31.3,34.9,29.5,35.5,31.5,35.8,32.8,35.1,33.1,34.8,32]],
  'Jordan': [[34.9,29.5,36.1,29.2,37.5,30,38,30.5,37,31.5,39.2,32.2,38.8,33.4,36.8,32.3,35.8,32.8,35.5,31.5]],
  'Saudi Arabia': [[34.9,29.5,36.1,29.2,37.5,30,38,30.5,37,31.5,39.2,32.2,42,31.2,44.7,29.2,46.6,29.1,48.4,28.5,50,26.8,50.2,25.5,51,24.5,52,23,55.1,22.7,55.2,22,55,20,52,19,49,18.6,46.7,17.3,43.4,17.5,42.8,16.5,42,18,39,21.5,37,25,35,28]],
  'Kuwait': [[46.6,29.1,47.7,30.1,48,29.9,48.4,28.5]],
  'Qatar': [[50.8,25.9,51.6,25.9,51.5,24.7,51,24.5]],
  'UAE': [[51.6,24.2,54,24.1,56,26,56.4,24.9,55.2,22.7,52,23]],
  'Oman': [[56.4,24.9,58.6,23.6,59.8,22.5,57.8,19,55.4,17.5,53,16.6,52,19,55,20,55.2,22,55.2,22.7]],
  'Yemen': [[43.4,17.5,46.7,17.3,49,18.6,52,19,53,16.6,48,14,45,12.8,43.5,12.7,42.8,15,42.8,16.5]],
  'Egypt': [[25,31.6,29,31,31,31.5,34.3,31.3,34.9,29.5,34.3,27.8,33.5,28,34.2,26,35.5,24,37,22,31.3,22,25,22]],
  'Libya': [[25,31.6,25,22,25,20,24,19.5,15,23,14,22.5,11.9,23.5,10,24.5,9.5,30,10.3,31.5,11.5,33.2,15,32.3,18,30.6,20,31,20,32.8,23,32.6]],
  'Tunisia': [[8.2,36.9,9.8,37.3,11,37,10.5,36,11,35.5,10.1,34,11.5,33.2,10.3,31.5,9.5,30,8.4,32.5,7.6,33.5,8.2,35]],
  'Algeria': [[-2,35.1,-1.3,32.5,-3.5,31.5,-8.7,28.7,-8.7,27.3,-4.8,25,1.2,21,3.2,19.8,4.2,19.1,6,19.5,11.9,23.5,10,24.5,9.5,30,8.4,32.5,7.6,33.5,8.2,35,8.2,36.9,3,36.9,0,35.9]],
  'Morocco': [[-5.9,35.8,-2,35.1,-1.3,32.5,-3.5,31.5,-8.7,28.7,-8.7,27.7,-13.2,27.7,-11.4,29,-9.7,30,-9.8,31.5,-8.5,33.3,-6.8,34]],
  'Western Sahara': [[-8.7,27.7,-8.7,26,-12,26,-13,23.5,-13,21.3,-17,21.3,-16,23.5,-14.5,26,-13.2,27.7]],
  'Mauritania': [[-8.7,27.3,-4.8,25,-6.5,25,-5.5,15.5,-9,15.5,-12,14.8,-14.5,16.6,-16.5,16,-16.2,19,-17,21.3,-13,21.3,-13,23.5,-12,26,-8.7,26]],
  'Mali': [[-12,14.8,-9,15.5,-5.5,15.5,-6.5,25,-4.8,25,1.2,21,3.2,19.8,4.2,19.1,4.2,15.2,3.5,15.4,0,14.9,-0.5,15,-2,14.2,-3,13.7,-4.4,12,-5.5,10.4,-7,10.2,-8,10.2,-8.3,11.5,-9.3,12.4,-11.4,12.2]],
  'Senegal': [[-16.5,16,-14.5,16.6,-12,14.8,-11.4,12.2,-13.7,12.6,-16.7,12.4,-17.5,14.7]],
  'Guinea-Bissau': [[-16.7,12.4,-13.7,12.6,-13.7,11.7,-15,11,-16,11.7]],
  'Guinea': [[-13.7,12.6,-11.4,12.2,-9.3,12.4,-8.3,11.5,-8,10.2,-7.8,8,-8.5,7.6,-9.5,8.5,-10.5,8.4,-10.2,10,-11.3,10,-12.9,9.9,-15,11,-13.7,11.7]],
  'Sierra Leone': [[-12.9,9.9,-11.3,10,-10.2,10,-10.5,8.4,-11.4,6.9,-13.2,8]],
  'Liberia': [[-11.4,6.9,-10.5,8.4,-9.5,8.5,-8.5,7.6,-7.5,4.4,-9,5]],
  'Ivory Coast': [[-8.5,7.6,-7.8,8,-8,10.2,-7,10.2,-5.5,10.4,-2.8,9.8,-3,5.1,-5,5.2,-7.5,4.4]],
  'Ghana': [[-3,5.1,-2.8,9.8,-2.8,11,0,11,0.5,8,1.2,6,-1.5,5]],
  'Burkina Faso': [[-5.5,10.4,-4.4,12,-3,13.7,-2,14.2,-0.5,15,0,14.9,2,12.8,2.4,11.8,1,11,0,11,-2.8,11,-2.8,9.8]],
  'Togo': [[0,11,1,11,1.6,9,1.6,6.2,1.2,6,0.5,8]],
  'Benin': [[1,11,2.4,11.8,3.7,11.7,3.6,9.8,2.7,7.9,2.7,6.3,1.6,6.2,1.6,9]],
  'Niger': [[0,14.9,3.5,15.4,4.2,15.2,4.2,19.1,6,19.5,11.9,23.5,14,22.5,15,23,16,20,15.5,16.9,13.6,13.7,12.3,13.1,10,13.3,7,13,5.5,13.9,3.7,11.7,2.4,11.8,2,12.8]],
  'Nigeria': [[2.7,6.3,2.7,7.9,3.6,9.8,3.7,11.7,5.5,13.9,7,13,10,13.3,12.3,13.1,13.6,13.7,14.2,12.4,14.2,11,13,8.5,11.8,7,10,6.5,8.5,4.7,6,4.3,5,5.8,4.4,6.3]],
  'Cameroon': [[8.5,4.7,10,6.5,11.8,7,13,8.5,14.2,11,14.2,12.4,14.9,12.2,15,10,15,8,14.5,6.2,15,4.4,16,2,14,2.2,9.8,2.2,9.7,3.8]],
  'Chad': [[14.2,12.4,13.6,13.7,15.5,16.9,16,20,15,23,24,19.5,24,15.7,22.9,13,22,11,18.9,8.7,16,7.5,15,8,15,10,14.9,12.2]],
  'Central African Republic': [[15,8,16,7.5,18.9,8.7,22,11,23,9.5,27.4,5.1,25,5,19,4,17,3.6,16,2,15,4.4,14.5,6.2]],
  'Sudan': [[24,19.5,25,20,25,22,31.3,22,37,22,37.5,18,38.5,18,36.5,14.3,36,12.7,34.2,10.5,33,10.7,33,12,31,10,28,9.5,26.5,9,24,8.7,23,9.5,22,11,22.9,13,24,15.7]],
  'South Sudan': [[23,9.5,24,8.7,26.5,9,28,9.5,31,10,33,12,33,10.7,34.2,10.5,33,7.8,35,5.5,33.9,4.2,31,3.7,28.9,4.5,27.4,5.1]],
  'Eritrea': [[38.5,18,39.5,15.2,43,12.6,41.2,14.6,38.5,14.4,36.5,14.3]],
  'Ethiopia': [[36.5,14.3,38.5,14.4,41.2,14.6,43,12.6,42.4,11,43.3,11,44,9,46.9,8,48,8,45,5,42,4.1,39.8,3.9,36,4.5,35,5.5,33,7.8,34.2,10.5,36,12.7]],
  'Djibouti': [[43,12.6,43.3,11.5,42.4,11]],
  'Somalia': [[43.3,11,44.5,10.4,48,11.2,51.2,11.9,50.8,9.5,48,4.5,45,2,41.5,-1.7,41,-1,41,2.9,42,4.1,45,5,48,8,46.9,8,44,9]],
  'Kenya': [[33.9,4.2,35,5.5,36,4.5,39.8,3.9,42,4.1,41,2.9,41,-1,41.5,-1.7,39.2,-4.7,37.7,-3.5,34,-1,34,0.2,35,1.9]],
  'Uganda': [[31,3.7,33.9,4.2,35,1.9,34,0.2,34,-1,30.5,-1,29.7,-1.4,29.6,-0.5,30,1,31.3,2.2]],
  'Rwanda': [[29,-2.7,29.7,-1.4,30.5,-1,30.8,-2.3,30.5,-2.4]],
  'Burundi': [[29,-2.7,30.5,-2.4,30.8,-2.3,30.3,-4.4,29.3,-4.4]],
  'Tanzania': [[30.5,-1,34,-1,37.7,-3.5,39.2,-4.7,38.8,-6.5,39.5,-8,40.4,-10.4,37.8,-11.3,34.9,-11.6,34,-9.5,32.9,-9.3,31,-8.6,29.5,-6,29.3,-4.4,30.3,-4.4,30.8,-2.3]],
  'DR Congo': [[12.2,-6,13,-5.9,16.5,-5.9,17,-7.5,19.5,-7,21.9,-7.3,22,-11,23.9,-10.9,27,-11.7,28.4,-12.5,29.8,-13.4,29.8,-12.2,28.5,-11.8,28.9,-8.5,30.7,-8.2,29.5,-6,29.3,-4.4,29,-2.7,29.7,-1.4,29.6,-0.5,30,1,31.3,2.2,31,3.7,28.9,4.5,27.4,5.1,25,5,19,4,17,3.6,17.7,0,16,-2,16,-3.5,14.5,-4.5,13,-4.8,12.2,-5]],
  'Congo': [[11.2,-4,12.2,-5,13,-4.8,14.5,-4.5,16,-3.5,16,-2,17.7,0,17,3.6,16,2,14,2.2,13.3,1.3,14.3,-0.5,14.3,-2,12.5,-2.3,11.9,-3.5]],
  'Gabon': [[9.8,1,11.3,1,11.3,2.2,14,2.2,13.3,1.3,14.3,-0.5,14.3,-2,12.5,-2.3,11.9,-3.5,11.2,-4,8.8,-0.7]],
  'Equatorial Guinea': [[9.6,2.2,11.3,2.2,11.3,1,9.8,1]],
  'Angola': [[12.2,-6,13,-5.9,16.5,-5.9,17,-7.5,19.5,-7,21.9,-7.3,22,-11,23.9,-10.9,24,-13,22,-13,22,-16.2,23.4,-17.6,21.4,-18,18.5,-17.4,14,-17.4,11.8,-17.3,12.5,-13.5,13.8,-11,13,-9]],
  'Zambia': [[22,-13,24,-13,23.9,-10.9,27,-11.7,28.4,-12.5,29.8,-13.4,29.8,-12.2,28.5,-11.8,28.9,-8.5,30.7,-8.2,31,-8.6,32.9,-9.3,33.5,-11,32.9,-13.5,30.2,-14.8,30.4,-15.6,28.9,-16,27,-17.9,25.3,-17.8,23.4,-17.6,22,-16.2]],
  'Malawi': [[32.9,-9.3,34,-9.5,34.9,-11.6,34.5,-13,35.3,-14,35.8,-16,35.2,-17,34.3,-15.5,33.2,-14,32.9,-13.5,33.5,-11]],
  'Mozambique': [[34.9,-11.6,37.8,-11.3,40.4,-10.4,40.8,-14.8,37,-17.8,34.9,-20,35.5,-24,32.9,-25.9,32.9,-26.8,32,-25.5,32,-24.4,31.3,-22.4,32.4,-21,33,-19.5,32.9,-16.8,30.4,-15.6,30.2,-14.8,32.9,-13.5,33.2,-14,34.3,-15.5,35.2,-17,35.8,-16,35.3,-14,34.5,-13]],
  'Zimbabwe': [[25.3,-17.8,27,-17.9,28.9,-16,30.4,-15.6,32.9,-16.8,33,-19.5,32.4,-21,31.3,-22.4,29.4,-22.2,28,-21.5,26,-19.5]],
  'Botswana': [[20,-18.3,21.4,-18,23.4,-17.6,25.3,-17.8,26,-19.5,28,-21.5,29.4,-22.2,27,-23.6,25.5,-25.7,23,-25.3,20.7,-26.8,20,-24.8,20,-22]],
  'Namibia': [[11.8,-17.3,14,-17.4,18.5,-17.4,21.4,-18,20,-18.3,20,-22,20,-24.8,20.7,-26.8,20,-28.4,17,-28.7,15,-26.5,14.4,-22.9,12,-18]],
  'South Africa': [[16.5,-28.6,17,-28.7,20,-28.4,20.7,-26.8,23,-25.3,25.5,-25.7,27,-23.6,29.4,-22.2,31.3,-22.4,32,-24.4,32,-25.5,30.9,-25.9,31,-27.2,32.9,-26.8,32.4,-28.5,30.5,-31,28,-33.5,25.7,-34,22,-34.2,20,-34.8,18.4,-34.2,18.2,-31.7]],
  'Eswatini': [[30.9,-25.9,32,-25.5,32.9,-26.8,31,-27.2]],
  'Madagascar': [[49.3,-12,50.5,-15.5,49.5,-17,47.1,-24.9,45,-25.5,43.7,-23.5,44.3,-20,44.4,-16.2,47,-15.5]],
  'Cape Verde': [[-25.3,17.2,-24.9,17.1,-25.1,16.9],[-23.7,15.3,-23.4,15,-23.7,14.9]],
  'Kerguelen': [[69.1,-49,70.5,-49.2,69.6,-49.7]],
  'Reunion': [[55.2,-20.9,55.8,-21.1,55.4,-21.4]],
  'Australia': [
    [113.4,-22,114.2,-21.8,116.7,-20.6,119,-20,122,-18,122.3,-17,125,-15.3,127,-14,129,-14.9,129.6,-14.9,130.6,-12.5,132.5,-11.5,136.5,-12,136,-13.5,135.5,-15,139,-17,140.5,-17.5,141.7,-15,141.7,-12.5,142.5,-10.8,143.5,-14,145.3,-15,146,-18.8,149,-21,150.8,-23.5,153,-25.5,153.6,-28.6,152.5,-32.5,150.8,-35,150,-37.4,146.5,-39,144.7,-38,143,-38.7,140.5,-38,138.5,-35.6,138,-33,137.5,-35,135.7,-34.8,134,-32.8,131,-31.5,126,-32.3,123.5,-33.9,120,-34,118,-35,115,-34.3,115.7,-32,114.9,-29.5,113.4,-26,114,-24],
    [144.7,-40.7,148.3,-40.9,148,-43,146.5,-43.5,145.3,-42.5]
  ],
  'New Zealand': [
    [172.8,-34.5,174.5,-36,176,-37.6,178.5,-37.7,177,-39.5,176,-41.3,175.1,-41.6,175,-40,173.8,-39.3,174.6,-37.5],
    [172.8,-40.6,174.2,-41.3,172.8,-43.5,171,-45,169,-46.6,166.5,-46,168,-44.2,171,-42.5]
  ],
  'New Caledonia': [[164,-20.1,167,-22.3,165,-21]],
  'Fiji': [[177.5,-17.5,178.5,-18,177.5,-18.2]],
  'Vanuatu': [[166.8,-15,167.3,-15.3,167.8,-16.5,167.2,-15.9]],
  'Solomon Islands': [[156.5,-6.8,158,-7.6,157,-7.4],[159,-8,161,-9.8,160,-9],[160,-9.4,161,-9.6,160,-9.7]],
  'Lesotho': [[27,-29.6,28.5,-28.6,29.4,-29.5,28.2,-30.6]]
};

const growthByCountry = new Map(dataCountries.map((c, i) => [c, dataGrowth[i]]));

// Robinson projection from its latitude table, parallels are straight lines
const latitudes = d3.range(0, 95, 5);
const parallelLength = d3.scaleLinear().domain(latitudes).range([1, .9986, .9954, .99, .9822, .973, .96, .9427, .9216, .8962, .8679, .835, .7986, .7597, .7186, .6732, .6213, .5722, .5322]);
const parallelDistance = d3.scaleLinear().domain(latitudes).range([0, .062, .124, .186, .248, .31, .372, .434, .4958, .5571, .6176, .6769, .7346, .7903, .8435, .8936, .9394, .9761, 1]);
const lonScale = d3.scaleLinear().domain([0, 180]).range([0, 417.2]);
const latScale = d3.scaleLinear().domain([0, 1]).range([347, 135.4]);

const robinson = d3.geoTransform({
  point(lon, lat) {
    const a = Math.abs(lat);
    const y = latScale(parallelDistance(a) * Math.sign(lat));
    this.stream.point(363.4 + lonScale(lon) * parallelLength(a), y);
  }
});
const geoPath = d3.geoPath(robinson);

function toFeature(name) {
  const rings = outlines[name].map(flat => {
    const ring = d3.range(0, flat.length, 2).map(i => [flat[i], flat[i + 1]]);
    ring.push(ring[0]);
    return [ring];
  });
  return { type: 'Feature', properties: { name, growth: growthByCountry.get(name) }, geometry: { type: 'MultiPolygon', coordinates: rings } };
}

const color = d3.scaleThreshold().domain(tickValues).range(binColors);

const svg = d3.select('body').append('svg')
  .attr('width', width)
  .attr('height', height)
  .attr('viewBox', `0 0 ${width} ${height}`);

// hatch for missing countries
const pattern = svg.append('defs').append('pattern')
  .attr('id', 'nodata')
  .attr('width', 5)
  .attr('height', 5)
  .attr('patternUnits', 'userSpaceOnUse')
  .attr('patternTransform', 'rotate(-45)');
pattern.append('rect').attr('width', 5).attr('height', 5).attr('fill', '#fff');
pattern.append('rect').attr('width', 5).attr('height', 2).attr('fill', '#e3e3e3');

// title block
svg.append('text')
  .attr('x', 16).attr('y', 41)
  .attr('textLength', 391)
  .attr('lengthAdjust', 'spacingAndGlyphs')
  .style('font-family', '"Liberation Serif", "DejaVu Serif", serif')
  .style('font-size', '27px')
  .style('font-weight', 600)
  .attr('fill', '#333')
  .text('Annual broad money growth, 2024');

const subtitleLines = [
  'Broad money is the sum of currency outside banks; demand deposits other than those of the central',
  'government; the time, savings, and foreign currency deposits of resident sectors other than the central',
  'government; bank and traveler\u2019s checks; and other securities such as certificates of deposit and commercial',
  'paper.'
];
svg.selectAll('.subtitle').data(subtitleLines).enter()
  .append('text')
  .attr('class', 'subtitle')
  .attr('x', 16)
  .attr('y', (d, i) => 66.5 + i * 18)
  .attr('fill', '#5b5b5b')
  .style('font-size', '15px')
  .text(d => d);

// logo
const logo = svg.append('g');
logo.append('rect').attr('x', 771).attr('y', 16).attr('width', 63).attr('height', 36).attr('fill', '#002147');
logo.append('rect').attr('x', 771).attr('y', 49.5).attr('width', 63).attr('height', 2.5).attr('fill', '#ce261e');
logo.selectAll('text').data(['Our World', 'in Data']).enter()
  .append('text')
  .attr('x', 802.5)
  .attr('y', (d, i) => 30 + i * 13)
  .attr('text-anchor', 'middle')
  .attr('fill', '#fff')
  .style('font-size', '11px')
  .style('font-weight', 700)
  .style('letter-spacing', '0.4px')
  .text(d => d);

// map
const names = Object.keys(outlines);
const missing = names.filter(n => !growthByCountry.has(n) && n !== 'Lesotho');
const present = names.filter(n => growthByCountry.has(n));
const map = svg.append('g');

map.selectAll('.nodata')
  .data(missing.map(toFeature)).enter()
  .append('path')
  .attr('class', 'nodata')
  .attr('d', geoPath)
  .attr('fill', 'url(#nodata)')
  .attr('stroke', '#d8d8d8')
  .attr('stroke-width', 0.6);

map.selectAll('.country')
  .data(present.map(toFeature)).enter()
  .append('path')
  .attr('class', 'country')
  .attr('d', geoPath)
  .attr('fill', d => color(d.properties.growth))
  .attr('stroke', '#8f9aa3')
  .attr('stroke-width', 0.6);

// Lesotho sits inside South Africa so it has to go last
map.append('path')
  .datum(toFeature('Lesotho'))
  .attr('d', geoPath)
  .attr('fill', 'url(#nodata)')
  .attr('stroke', '#8f9aa3')
  .attr('stroke-width', 0.6);

// legend
const legendX = d3.scaleLinear().domain([-20, 20]).range([224.4, 692.7]);
const legendTop = 536.5, legendH = 12, tip = 5;
const legend = svg.append('g');

const bins = d3.pairs(binEdges).map((p, i) => ({ x0: p[0], x1: p[1], fill: binColors[i] }));
legend.selectAll('path').data(bins).enter()
  .append('path')
  .attr('d', (d, i) => {
    const a = legendX(d.x0), b = legendX(d.x1), t = legendTop, m = legendTop + legendH / 2, e = legendTop + legendH;
    if (i === 0) return `M${a},${m}L${a + tip},${t}H${b}V${e}H${a + tip}Z`;
    if (i === bins.length - 1) return `M${a},${t}H${b - tip}L${b},${m}L${b - tip},${e}H${a}Z`;
    return `M${a},${t}H${b}V${e}H${a}Z`;
  })
  .attr('fill', d => d.fill)
  .attr('stroke', '#999')
  .attr('stroke-width', 0.4);

const legendAxis = d3.axisTop(legendX)
  .tickValues(tickValues)
  .tickFormat(d => d + '%')
  .tickSize(4)
  .tickPadding(2);
const axisG = svg.append('g')
  .attr('transform', `translate(0,${legendTop})`)
  .call(legendAxis);
axisG.select('.domain').remove();
axisG.selectAll('line').attr('stroke', '#999').attr('stroke-width', 0.6);
axisG.selectAll('text')
  .attr('fill', '#5b5b5b')
  .style('font-size', '13.5px')
  .style('font-family', 'Lato, sans-serif');

svg.append('rect')
  .attr('x', 99).attr('y', legendTop)
  .attr('width', 47).attr('height', legendH)
  .attr('fill', 'url(#nodata)')
  .attr('stroke', '#ccc')
  .attr('stroke-width', 0.6);
svg.append('line')
  .attr('x1', 122.5).attr('x2', 122.5)
  .attr('y1', legendTop - 4).attr('y2', legendTop)
  .attr('stroke', '#999')
  .attr('stroke-width', 0.6);
svg.append('text')
  .attr('x', 122.5).attr('y', 530)
  .attr('text-anchor', 'middle')
  .attr('fill', '#5b5b5b')
  .style('font-size', '13.5px')
  .text('No data');

// footer
const source = svg.append('text')
  .attr('x', 16).attr('y', 581)
  .attr('fill', '#5b5b5b')
  .style('font-size', '13px');
source.append('tspan').style('font-weight', 700).text('Data source:');
source.append('tspan').text(' International Monetary Fund');

svg.append('text')
  .attr('x', 831).attr('y', 581)
  .attr('text-anchor', 'end')
  .attr('fill', '#5b5b5b')
  .style('font-size', '13px')
  .text('OurWorldinData.org/economic-growth | CC BY');
</script>
</body>
</html>
